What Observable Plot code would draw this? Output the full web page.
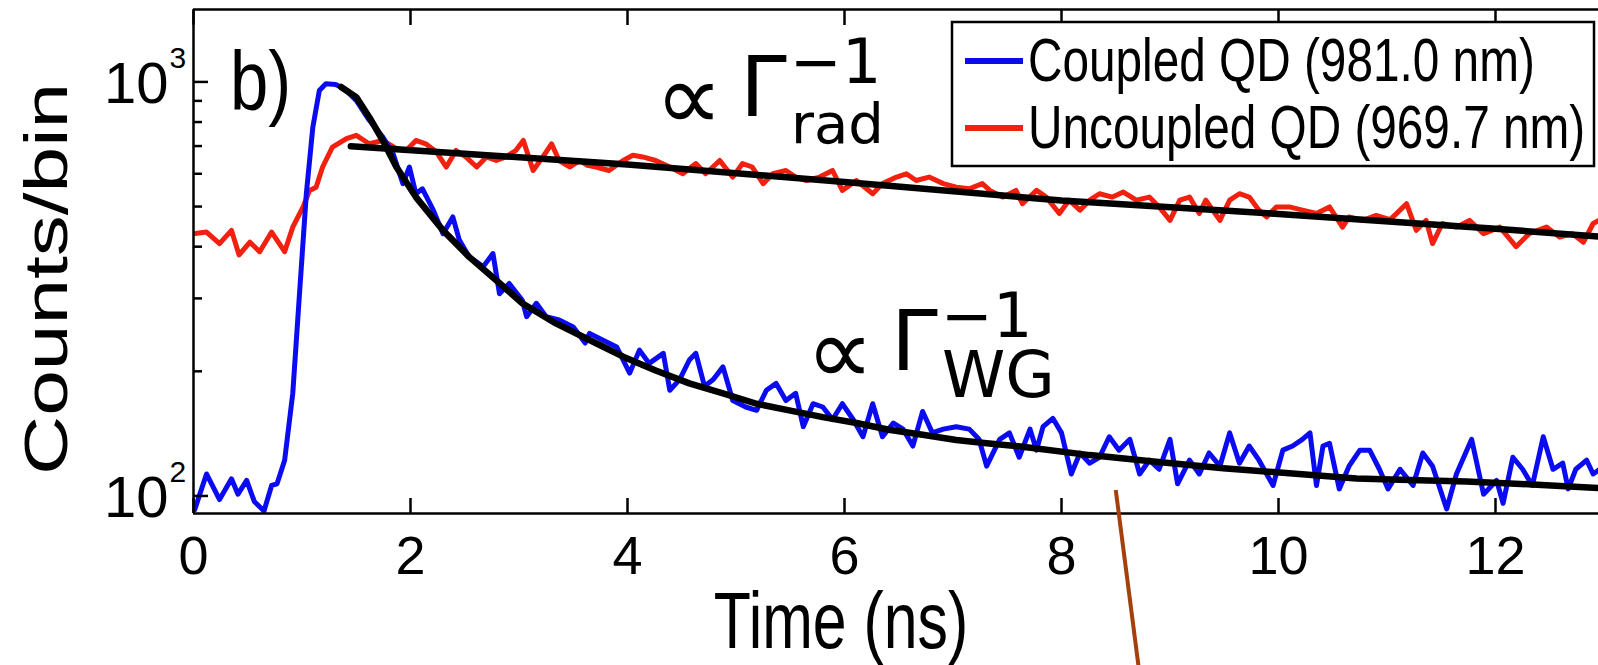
<!DOCTYPE html>
<html><head><meta charset="utf-8">
<script src="https://cdn.jsdelivr.net/npm/d3@7"></script>
<script src="https://cdn.jsdelivr.net/npm/@observablehq/plot@0.6"></script>
<style>
html,body{margin:0;padding:0;background:#fff;overflow:hidden;}
#chart{position:relative;width:1598px;height:665px;overflow:hidden;}
</style></head><body><div id="chart"></div>
<script>
// ---- data ----
const blueTime = [0.01,0.12,0.24,0.35,0.41,0.49,0.56,0.65,0.72,0.77,0.84,0.915,0.977,1.04,1.10,1.16,1.22,1.31,1.39,1.50,1.62,1.745,1.84,1.93,1.99,2.05,2.11,2.21,2.30,2.39,2.45,2.54,2.67,2.76,2.82,2.91,3.03,3.07,3.16,3.25,3.37,3.50,3.61,3.65,3.77,3.90,4.02,4.11,4.20,4.33,4.39,4.48,4.57,4.63,4.71,4.79,4.88,4.97,5.09,5.19,5.28,5.37,5.46,5.55,5.62,5.71,5.80,5.89,5.98,6.08,6.17,6.26,6.35,6.45,6.54,6.63,6.72,6.81,6.91,7.03,7.15,7.24,7.31,7.43,7.52,7.61,7.71,7.77,7.83,7.92,8.00,8.09,8.17,8.26,8.35,8.44,8.53,8.63,8.72,8.81,8.90,9.00,9.07,9.18,9.27,9.36,9.46,9.55,9.64,9.73,9.82,9.95,10.04,10.13,10.22,10.29,10.35,10.41,10.47,10.56,10.65,10.75,10.84,10.93,11.01,11.12,11.24,11.33,11.42,11.55,11.64,11.78,11.89,12.01,12.07,12.16,12.25,12.34,12.44,12.53,12.62,12.67,12.74,12.84,12.90,13.0];
const blueCounts = [92.5,113,98,110,101,109,97,92,106,107,122,177,308,537,778,954,990,986,963,902,808,736,671,568,623,537,552,490,430,472,415,378,358,385,308,326,297,271,292,271,266,256,234,247,238,229,198,225,209,221,180,191,213,221,184,191,205,170,164,161,180,187,170,177,147,167,164,153,167,153,139,167,139,150,145,132,160,142,145,147,145,137,118,137,142,124,145,129,147,154,142,113,127,120,124,139,129,137,113,122,116,137,107,122,113,127,118,142,120,132,122,106,129,132,137,142,106,132,134,104,118,129,129,116,104,116,106,127,118,93,113,137,101,109,96,124,116,106,139,116,120,104,116,122,113,118];
const redTime = [0.00,0.12,0.24,0.35,0.42,0.52,0.61,0.72,0.84,0.915,1.01,1.07,1.13,1.19,1.28,1.41,1.50,1.62,1.745,1.87,1.96,2.05,2.14,2.24,2.33,2.42,2.51,2.61,2.70,2.79,2.88,2.97,3.04,3.13,3.22,3.30,3.37,3.47,3.56,3.63,3.71,3.83,3.96,4.05,4.14,4.26,4.39,4.51,4.63,4.72,4.85,4.97,5.06,5.15,5.25,5.34,5.46,5.55,5.65,5.77,5.89,5.98,6.11,6.26,6.35,6.48,6.57,6.66,6.78,6.91,7.03,7.15,7.27,7.34,7.46,7.58,7.64,7.77,7.86,7.98,8.07,8.17,8.26,8.35,8.47,8.57,8.69,8.81,8.90,9.00,9.09,9.18,9.27,9.33,9.46,9.55,9.64,9.73,9.82,9.89,9.98,10.10,10.22,10.35,10.47,10.59,10.65,10.78,10.90,11.03,11.18,11.27,11.36,11.42,11.51,11.64,11.76,11.89,12.04,12.19,12.31,12.47,12.59,12.71,12.81,12.90,13.0];
const redCounts = [430,434,407,438,382,410,389,434,389,446,499,547,557,623,696,730,743,709,722,690,683,722,709,677,623,683,659,623,659,646,659,683,722,611,659,709,646,623,646,629,623,611,646,665,659,646,623,600,635,600,646,589,635,623,568,600,611,589,578,589,611,547,578,537,568,589,600,578,589,568,557,552,568,547,527,547,508,547,527,481,518,490,518,537,527,542,518,527,499,463,518,527,481,518,463,518,537,527,490,472,499,499,490,481,499,446,472,463,476,465,508,438,463,407,455,446,463,430,446,400,430,446,422,430,410,455,470];
const blueFitTime = [1.36,1.50,1.62,1.745,1.87,2.05,2.30,2.54,2.79,3.03,3.34,3.65,3.96,4.26,4.57,4.88,5.19,5.49,5.80,6.11,6.41,6.72,7.03,7.31,7.64,8.26,8.87,9.49,10.10,10.72,11.12,11.73,12.34,12.90,13.0];
const blueFitCounts = [972,919,822,722,623,527,438,378,332,292,261,238,217,201,187,177,167,161,155,150,144.5,140.5,136.5,134,131.5,125.5,121,116.7,113.4,110.2,109.5,108.4,106.6,104.7,104.4];
const redFitTime = [1.45,4,6,8,10,12,13.0];
const redFitCounts = [699,632,573,517,480,442,422];
const pointerTime = [8.50, 8.72];
const pointerCounts = [103.4, 37];
const xTicks = [0,2,4,6,8,10,12];
const yMajorTicks = [100,1000];
const yTickBase = ["10","10"];
const yTickExponents = ["2","3"];
const yMinorTicks = [200,300,400,500,600,700,800,900];
const legendLabels = ["Coupled QD (981.0 nm)","Uncoupled QD (969.7 nm)"];
const xLabel = "Time (ns)";
const yLabel = "Counts/bin";
const panelLabel = "b)";
const annotationSubs = ["rad","WG"];

// ---- tables ----
const blueData = blueTime.map((t,i)=>({t, v: blueCounts[i]}));
const redData = redTime.map((t,i)=>({t, v: redCounts[i]}));
const blueFit = blueFitTime.map((t,i)=>({t, v: blueFitCounts[i]}));
const redFit = redFitTime.map((t,i)=>({t, v: redFitCounts[i]}));
const pointer = [{x1: pointerTime[0], y1: pointerCounts[0], x2: pointerTime[1], y2: pointerCounts[1]}];

const BLUE = "#0b0bf2", RED = "#f2200f", BROWN = "#a3400c";
const SANS = "'Liberation Sans', Arial, Helvetica, sans-serif";
const MATH = "'DejaVu Sans', sans-serif";
const yDomain = [90.7, 1496];

const plot = Plot.plot({
  width: 1598, height: 665,
  marginLeft: 193, marginRight: 0, marginTop: 9, marginBottom: 152,
  style: {fontFamily: SANS, background: "white", color: "black"},
  x: {domain: [0, 13], range: [193, 1603.5], axis: null},
  y: {type: "log", domain: yDomain, axis: null},
  marks: [
    Plot.line(redData, {x: "t", y: "v", stroke: RED, strokeWidth: 5, strokeLinejoin: "round", clip: true}),
    Plot.line(blueData, {x: "t", y: "v", stroke: BLUE, strokeWidth: 5, strokeLinejoin: "round", clip: true}),
    Plot.line(redFit, {x: "t", y: "v", stroke: "black", strokeWidth: 6.5, clip: true}),
    Plot.line(blueFit, {x: "t", y: "v", stroke: "black", strokeWidth: 6.5, strokeLinejoin: "round", clip: true}),
    Plot.axisY({anchor: "left", ticks: yMajorTicks, tickSize: -15, tickFormat: () => "", strokeWidth: 2.5}),
    Plot.axisY({anchor: "left", ticks: yMinorTicks, tickSize: -9, tickFormat: () => "", strokeWidth: 2.5}),
    Plot.axisX({anchor: "bottom", ticks: xTicks, tickSize: -15, tickFormat: () => "", strokeWidth: 2.5}),
    Plot.axisX({anchor: "top", ticks: xTicks, tickSize: -15, tickFormat: () => "", strokeWidth: 2.5}),
    Plot.ruleY([yDomain[0]], {stroke: "black", strokeWidth: 2.5}),
    Plot.ruleY([yDomain[1]], {stroke: "black", strokeWidth: 2.5}),
    Plot.ruleX([0], {stroke: "black", strokeWidth: 2.5}),
    Plot.text(xTicks, {x: d => d, frameAnchor: "bottom", lineAnchor: "bottom", dy: 60, text: d => String(d), fontSize: 54, fill: "black", ariaLabel: "xtick"}),
    Plot.text(yMajorTicks, {y: d => d, frameAnchor: "left", textAnchor: "end", lineAnchor: "bottom", dx: -25, dy: 21, text: (d, i) => yTickBase[i], fontSize: 58, fill: "black", ariaLabel: "ytick"}),
    Plot.text(yMajorTicks, {y: d => d, frameAnchor: "left", textAnchor: "start", lineAnchor: "bottom", dx: -24, dy: -14, text: (d, i) => yTickExponents[i], fontSize: 30, fill: "black", ariaLabel: "ytick"}),
    Plot.link(pointer, {x1: "x1", y1: "y1", x2: "x2", y2: "y2", stroke: BROWN, strokeWidth: 4})
  ]
});
document.getElementById("chart").appendChild(plot);

// horizontally squeeze a text about its anchor point (the original typeface is narrow)
function squeezeT(el, k) {
  const tr = el.getAttribute("transform") || "";
  el.setAttribute("transform", tr + ` scale(${k},1)`);
}
plot.querySelectorAll('g[aria-label="xtick"] text').forEach(el => squeezeT(el, 0.82));
plot.querySelectorAll('g[aria-label="ytick"] text').forEach(el => squeezeT(el, 0.84));

const svg = d3.select(plot);
const ov = svg.append("g").attr("class", "overlay").attr("text-anchor", "start");
function txt(parent, x, y, s, size, family, anchor, k) {
  return parent.append("text").attr("transform", `translate(${x},${y})` + (k ? ` scale(${k},1)` : ""))
    .attr("font-size", size).attr("font-family", family).attr("text-anchor", anchor || "start")
    .attr("fill", "black").text(s);
}

// annotations (proportional-to-Gamma) as one text each, with a white backing box
function annotation(gx, base, sub) {
  const g = ov.append("g");
  const box = g.append("rect").attr("fill", "white");
  const t = g.append("text").attr("font-family", MATH).attr("fill", "black").attr("text-anchor", "start");
  t.append("tspan").attr("x", gx - 85).attr("y", base + 14).attr("font-size", 95).text("∝");
  t.append("tspan").attr("x", gx).attr("y", base).attr("font-size", 84).text("Γ");
  t.append("tspan").attr("x", gx + 50).attr("y", base - 33).attr("font-size", 62).text("−1");
  t.append("tspan").attr("x", gx + 51).attr("y", base + 27).attr("font-size", sub === "WG" ? 64 : 56).text(sub);
  const bb = t.node().getBBox();
  const y0 = base - 33 - 0.78 * 62;
  box.attr("x", bb.x).attr("y", y0).attr("width", bb.width).attr("height", base + 28 - y0);
}
annotation(740, 116, annotationSubs[0]);
annotation(891, 370, annotationSubs[1]);

// panel label
txt(ov, 230, 110, panelLabel, 84, SANS, "start", 0.82);
// axis labels
txt(ov, 841, 648, xLabel, 80, SANS, "middle", 0.76);
ov.append("text").attr("transform", "translate(67,279) rotate(-90) scale(1,0.74)")
  .attr("text-anchor", "middle").attr("font-size", 82).attr("font-family", SANS).attr("fill", "black").text(yLabel);

// legend
const lg = ov.append("g");
lg.append("rect").attr("x", 952).attr("y", 22).attr("width", 642).attr("height", 144)
  .attr("fill", "white").attr("stroke", "black").attr("stroke-width", 2.5);
[BLUE, RED].forEach((c, i) => {
  lg.append("line").attr("x1", 965).attr("x2", 1023).attr("y1", 61 + i * 67).attr("y2", 61 + i * 67)
    .attr("stroke", c).attr("stroke-width", 6);
  txt(lg, 1028, 81 + i * 67, legendLabels[i], 62, SANS, "start", 0.77);
});
</script>
</body></html>
